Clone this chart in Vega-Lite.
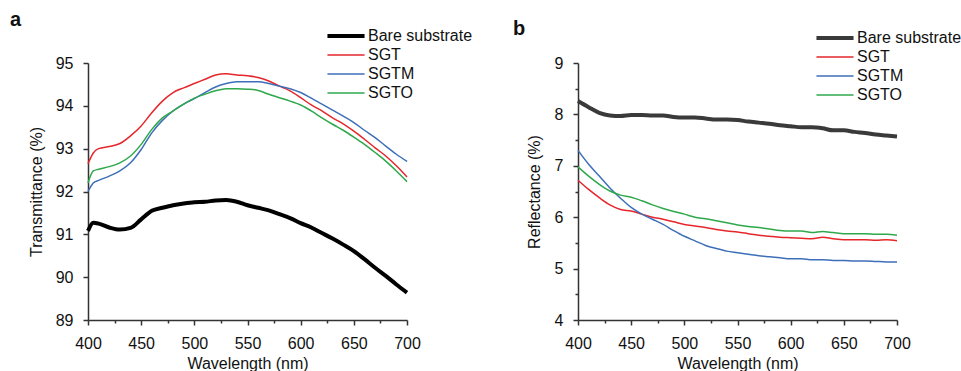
{
  "$schema": "https://vega.github.io/schema/vega-lite/v6.json",
  "padding": {"left": 10, "top": 10, "right": 0, "bottom": 0},
  "background": "white",
  "config": {
    "font": "Liberation Sans",
    "view": {"stroke": null},
    "axis": {
      "grid": false,
      "domainColor": "#333333",
      "domainWidth": 1.5,
      "tickColor": "#333333",
      "tickWidth": 1.5,
      "labelFont": "Liberation Sans",
      "labelFontSize": 16,
      "labelColor": "#111111",
      "titleFont": "Liberation Sans",
      "titleFontSize": 16,
      "titleFontWeight": "normal",
      "titleColor": "#111111",
      "labelPadding": 10
    },
    "legend": {
      "orient": "none",
      "title": null,
      "symbolType": "M-4,0H4",
      "symbolSize": 86,
      "labelFont": "Liberation Sans",
      "labelFontSize": 16,
      "labelColor": "#111111",
      "labelOffset": 14,
      "rowPadding": 3,
      "padding": 0
    },
    "title": {"font": "Liberation Sans", "fontSize": 20, "fontWeight": "bold", "anchor": "start", "color": "#111111", "frame": "group"}
  },
  "datasets": {
    "a": [
      {"series": "Bare substrate", "wavelength": 400, "value": 91.08},
      {"series": "Bare substrate", "wavelength": 405, "value": 91.27},
      {"series": "Bare substrate", "wavelength": 410, "value": 91.25},
      {"series": "Bare substrate", "wavelength": 420, "value": 91.16},
      {"series": "Bare substrate", "wavelength": 430, "value": 91.11},
      {"series": "Bare substrate", "wavelength": 440, "value": 91.15},
      {"series": "Bare substrate", "wavelength": 450, "value": 91.35},
      {"series": "Bare substrate", "wavelength": 460, "value": 91.55},
      {"series": "Bare substrate", "wavelength": 470, "value": 91.62},
      {"series": "Bare substrate", "wavelength": 480, "value": 91.68},
      {"series": "Bare substrate", "wavelength": 490, "value": 91.72},
      {"series": "Bare substrate", "wavelength": 500, "value": 91.75},
      {"series": "Bare substrate", "wavelength": 510, "value": 91.76},
      {"series": "Bare substrate", "wavelength": 520, "value": 91.79},
      {"series": "Bare substrate", "wavelength": 530, "value": 91.8},
      {"series": "Bare substrate", "wavelength": 540, "value": 91.76},
      {"series": "Bare substrate", "wavelength": 550, "value": 91.68},
      {"series": "Bare substrate", "wavelength": 560, "value": 91.62},
      {"series": "Bare substrate", "wavelength": 570, "value": 91.56},
      {"series": "Bare substrate", "wavelength": 580, "value": 91.47},
      {"series": "Bare substrate", "wavelength": 590, "value": 91.38},
      {"series": "Bare substrate", "wavelength": 600, "value": 91.26},
      {"series": "Bare substrate", "wavelength": 610, "value": 91.16},
      {"series": "Bare substrate", "wavelength": 620, "value": 91.03},
      {"series": "Bare substrate", "wavelength": 630, "value": 90.9},
      {"series": "Bare substrate", "wavelength": 640, "value": 90.76},
      {"series": "Bare substrate", "wavelength": 650, "value": 90.61},
      {"series": "Bare substrate", "wavelength": 660, "value": 90.42},
      {"series": "Bare substrate", "wavelength": 670, "value": 90.22},
      {"series": "Bare substrate", "wavelength": 680, "value": 90.03},
      {"series": "Bare substrate", "wavelength": 690, "value": 89.83},
      {"series": "Bare substrate", "wavelength": 700, "value": 89.64},
      {"series": "SGT", "wavelength": 400, "value": 92.65},
      {"series": "SGT", "wavelength": 405, "value": 92.9},
      {"series": "SGT", "wavelength": 410, "value": 93.0},
      {"series": "SGT", "wavelength": 420, "value": 93.05},
      {"series": "SGT", "wavelength": 430, "value": 93.12},
      {"series": "SGT", "wavelength": 440, "value": 93.3},
      {"series": "SGT", "wavelength": 450, "value": 93.53},
      {"series": "SGT", "wavelength": 460, "value": 93.84},
      {"series": "SGT", "wavelength": 470, "value": 94.11},
      {"series": "SGT", "wavelength": 480, "value": 94.31},
      {"series": "SGT", "wavelength": 490, "value": 94.42},
      {"series": "SGT", "wavelength": 500, "value": 94.52},
      {"series": "SGT", "wavelength": 510, "value": 94.62},
      {"series": "SGT", "wavelength": 520, "value": 94.72},
      {"series": "SGT", "wavelength": 530, "value": 94.75},
      {"series": "SGT", "wavelength": 540, "value": 94.72},
      {"series": "SGT", "wavelength": 550, "value": 94.7},
      {"series": "SGT", "wavelength": 560, "value": 94.66},
      {"series": "SGT", "wavelength": 570, "value": 94.58},
      {"series": "SGT", "wavelength": 580, "value": 94.46},
      {"series": "SGT", "wavelength": 590, "value": 94.35},
      {"series": "SGT", "wavelength": 600, "value": 94.19},
      {"series": "SGT", "wavelength": 610, "value": 94.02},
      {"series": "SGT", "wavelength": 620, "value": 93.88},
      {"series": "SGT", "wavelength": 630, "value": 93.72},
      {"series": "SGT", "wavelength": 640, "value": 93.58},
      {"series": "SGT", "wavelength": 650, "value": 93.41},
      {"series": "SGT", "wavelength": 660, "value": 93.22},
      {"series": "SGT", "wavelength": 670, "value": 93.02},
      {"series": "SGT", "wavelength": 680, "value": 92.83},
      {"series": "SGT", "wavelength": 690, "value": 92.6},
      {"series": "SGT", "wavelength": 700, "value": 92.34},
      {"series": "SGTM", "wavelength": 400, "value": 92.0},
      {"series": "SGTM", "wavelength": 405, "value": 92.2},
      {"series": "SGTM", "wavelength": 410, "value": 92.26},
      {"series": "SGTM", "wavelength": 420, "value": 92.36},
      {"series": "SGTM", "wavelength": 430, "value": 92.48},
      {"series": "SGTM", "wavelength": 440, "value": 92.67},
      {"series": "SGTM", "wavelength": 450, "value": 92.98},
      {"series": "SGTM", "wavelength": 460, "value": 93.37},
      {"series": "SGTM", "wavelength": 470, "value": 93.66},
      {"series": "SGTM", "wavelength": 480, "value": 93.88},
      {"series": "SGTM", "wavelength": 490, "value": 94.04},
      {"series": "SGTM", "wavelength": 500, "value": 94.17},
      {"series": "SGTM", "wavelength": 510, "value": 94.31},
      {"series": "SGTM", "wavelength": 520, "value": 94.44},
      {"series": "SGTM", "wavelength": 530, "value": 94.52},
      {"series": "SGTM", "wavelength": 540, "value": 94.56},
      {"series": "SGTM", "wavelength": 550, "value": 94.56},
      {"series": "SGTM", "wavelength": 560, "value": 94.56},
      {"series": "SGTM", "wavelength": 570, "value": 94.52},
      {"series": "SGTM", "wavelength": 580, "value": 94.46},
      {"series": "SGTM", "wavelength": 590, "value": 94.4},
      {"series": "SGTM", "wavelength": 600, "value": 94.31},
      {"series": "SGTM", "wavelength": 610, "value": 94.18},
      {"series": "SGTM", "wavelength": 620, "value": 94.04},
      {"series": "SGTM", "wavelength": 630, "value": 93.9},
      {"series": "SGTM", "wavelength": 640, "value": 93.76},
      {"series": "SGTM", "wavelength": 650, "value": 93.61},
      {"series": "SGTM", "wavelength": 660, "value": 93.43},
      {"series": "SGTM", "wavelength": 670, "value": 93.26},
      {"series": "SGTM", "wavelength": 680, "value": 93.06},
      {"series": "SGTM", "wavelength": 690, "value": 92.87},
      {"series": "SGTM", "wavelength": 700, "value": 92.7},
      {"series": "SGTO", "wavelength": 400, "value": 92.2},
      {"series": "SGTO", "wavelength": 405, "value": 92.48},
      {"series": "SGTO", "wavelength": 410, "value": 92.52},
      {"series": "SGTO", "wavelength": 420, "value": 92.58},
      {"series": "SGTO", "wavelength": 430, "value": 92.67},
      {"series": "SGTO", "wavelength": 440, "value": 92.83},
      {"series": "SGTO", "wavelength": 450, "value": 93.1},
      {"series": "SGTO", "wavelength": 460, "value": 93.45},
      {"series": "SGTO", "wavelength": 470, "value": 93.72},
      {"series": "SGTO", "wavelength": 480, "value": 93.88},
      {"series": "SGTO", "wavelength": 490, "value": 94.04},
      {"series": "SGTO", "wavelength": 500, "value": 94.18},
      {"series": "SGTO", "wavelength": 510, "value": 94.27},
      {"series": "SGTO", "wavelength": 520, "value": 94.35},
      {"series": "SGTO", "wavelength": 530, "value": 94.4},
      {"series": "SGTO", "wavelength": 540, "value": 94.4},
      {"series": "SGTO", "wavelength": 550, "value": 94.39},
      {"series": "SGTO", "wavelength": 560, "value": 94.36},
      {"series": "SGTO", "wavelength": 570, "value": 94.27},
      {"series": "SGTO", "wavelength": 580, "value": 94.19},
      {"series": "SGTO", "wavelength": 590, "value": 94.11},
      {"series": "SGTO", "wavelength": 600, "value": 94.02},
      {"series": "SGTO", "wavelength": 610, "value": 93.88},
      {"series": "SGTO", "wavelength": 620, "value": 93.72},
      {"series": "SGTO", "wavelength": 630, "value": 93.57},
      {"series": "SGTO", "wavelength": 640, "value": 93.43},
      {"series": "SGTO", "wavelength": 650, "value": 93.27},
      {"series": "SGTO", "wavelength": 660, "value": 93.1},
      {"series": "SGTO", "wavelength": 670, "value": 92.91},
      {"series": "SGTO", "wavelength": 680, "value": 92.71},
      {"series": "SGTO", "wavelength": 690, "value": 92.48},
      {"series": "SGTO", "wavelength": 700, "value": 92.23}
    ],
    "b": [
      {"series": "Bare substrate", "wavelength": 400, "value": 8.26},
      {"series": "Bare substrate", "wavelength": 410, "value": 8.14},
      {"series": "Bare substrate", "wavelength": 420, "value": 8.03},
      {"series": "Bare substrate", "wavelength": 430, "value": 7.98},
      {"series": "Bare substrate", "wavelength": 440, "value": 7.97},
      {"series": "Bare substrate", "wavelength": 450, "value": 7.99},
      {"series": "Bare substrate", "wavelength": 460, "value": 7.99},
      {"series": "Bare substrate", "wavelength": 470, "value": 7.98},
      {"series": "Bare substrate", "wavelength": 480, "value": 7.98},
      {"series": "Bare substrate", "wavelength": 490, "value": 7.95},
      {"series": "Bare substrate", "wavelength": 500, "value": 7.94},
      {"series": "Bare substrate", "wavelength": 510, "value": 7.94},
      {"series": "Bare substrate", "wavelength": 520, "value": 7.92},
      {"series": "Bare substrate", "wavelength": 530, "value": 7.9},
      {"series": "Bare substrate", "wavelength": 540, "value": 7.9},
      {"series": "Bare substrate", "wavelength": 550, "value": 7.89},
      {"series": "Bare substrate", "wavelength": 560, "value": 7.86},
      {"series": "Bare substrate", "wavelength": 570, "value": 7.84},
      {"series": "Bare substrate", "wavelength": 580, "value": 7.82},
      {"series": "Bare substrate", "wavelength": 590, "value": 7.79},
      {"series": "Bare substrate", "wavelength": 600, "value": 7.77},
      {"series": "Bare substrate", "wavelength": 610, "value": 7.75},
      {"series": "Bare substrate", "wavelength": 620, "value": 7.75},
      {"series": "Bare substrate", "wavelength": 630, "value": 7.73},
      {"series": "Bare substrate", "wavelength": 640, "value": 7.69},
      {"series": "Bare substrate", "wavelength": 650, "value": 7.69},
      {"series": "Bare substrate", "wavelength": 660, "value": 7.66},
      {"series": "Bare substrate", "wavelength": 670, "value": 7.64},
      {"series": "Bare substrate", "wavelength": 680, "value": 7.61},
      {"series": "Bare substrate", "wavelength": 690, "value": 7.59},
      {"series": "Bare substrate", "wavelength": 700, "value": 7.57},
      {"series": "SGT", "wavelength": 400, "value": 6.72},
      {"series": "SGT", "wavelength": 410, "value": 6.54},
      {"series": "SGT", "wavelength": 420, "value": 6.38},
      {"series": "SGT", "wavelength": 430, "value": 6.24},
      {"series": "SGT", "wavelength": 440, "value": 6.15},
      {"series": "SGT", "wavelength": 450, "value": 6.12},
      {"series": "SGT", "wavelength": 460, "value": 6.06},
      {"series": "SGT", "wavelength": 470, "value": 6.0},
      {"series": "SGT", "wavelength": 480, "value": 5.96},
      {"series": "SGT", "wavelength": 490, "value": 5.91},
      {"series": "SGT", "wavelength": 500, "value": 5.86},
      {"series": "SGT", "wavelength": 510, "value": 5.83},
      {"series": "SGT", "wavelength": 520, "value": 5.8},
      {"series": "SGT", "wavelength": 530, "value": 5.76},
      {"series": "SGT", "wavelength": 540, "value": 5.73},
      {"series": "SGT", "wavelength": 550, "value": 5.71},
      {"series": "SGT", "wavelength": 560, "value": 5.68},
      {"series": "SGT", "wavelength": 570, "value": 5.65},
      {"series": "SGT", "wavelength": 580, "value": 5.63},
      {"series": "SGT", "wavelength": 590, "value": 5.61},
      {"series": "SGT", "wavelength": 600, "value": 5.6},
      {"series": "SGT", "wavelength": 610, "value": 5.59},
      {"series": "SGT", "wavelength": 620, "value": 5.58},
      {"series": "SGT", "wavelength": 630, "value": 5.61},
      {"series": "SGT", "wavelength": 640, "value": 5.58},
      {"series": "SGT", "wavelength": 650, "value": 5.56},
      {"series": "SGT", "wavelength": 660, "value": 5.56},
      {"series": "SGT", "wavelength": 670, "value": 5.56},
      {"series": "SGT", "wavelength": 680, "value": 5.55},
      {"series": "SGT", "wavelength": 690, "value": 5.56},
      {"series": "SGT", "wavelength": 700, "value": 5.54},
      {"series": "SGTM", "wavelength": 400, "value": 7.3},
      {"series": "SGTM", "wavelength": 410, "value": 7.03},
      {"series": "SGTM", "wavelength": 420, "value": 6.8},
      {"series": "SGTM", "wavelength": 430, "value": 6.57},
      {"series": "SGTM", "wavelength": 440, "value": 6.37},
      {"series": "SGTM", "wavelength": 450, "value": 6.19},
      {"series": "SGTM", "wavelength": 460, "value": 6.06},
      {"series": "SGTM", "wavelength": 470, "value": 5.96},
      {"series": "SGTM", "wavelength": 480, "value": 5.86},
      {"series": "SGTM", "wavelength": 490, "value": 5.74},
      {"series": "SGTM", "wavelength": 500, "value": 5.63},
      {"series": "SGTM", "wavelength": 510, "value": 5.54},
      {"series": "SGTM", "wavelength": 520, "value": 5.45},
      {"series": "SGTM", "wavelength": 530, "value": 5.39},
      {"series": "SGTM", "wavelength": 540, "value": 5.34},
      {"series": "SGTM", "wavelength": 550, "value": 5.31},
      {"series": "SGTM", "wavelength": 560, "value": 5.28},
      {"series": "SGTM", "wavelength": 570, "value": 5.25},
      {"series": "SGTM", "wavelength": 580, "value": 5.23},
      {"series": "SGTM", "wavelength": 590, "value": 5.21},
      {"series": "SGTM", "wavelength": 600, "value": 5.19},
      {"series": "SGTM", "wavelength": 610, "value": 5.19},
      {"series": "SGTM", "wavelength": 620, "value": 5.17},
      {"series": "SGTM", "wavelength": 630, "value": 5.17},
      {"series": "SGTM", "wavelength": 640, "value": 5.16},
      {"series": "SGTM", "wavelength": 650, "value": 5.16},
      {"series": "SGTM", "wavelength": 660, "value": 5.15},
      {"series": "SGTM", "wavelength": 670, "value": 5.15},
      {"series": "SGTM", "wavelength": 680, "value": 5.14},
      {"series": "SGTM", "wavelength": 690, "value": 5.13},
      {"series": "SGTM", "wavelength": 700, "value": 5.13},
      {"series": "SGTO", "wavelength": 400, "value": 6.98},
      {"series": "SGTO", "wavelength": 410, "value": 6.8},
      {"series": "SGTO", "wavelength": 420, "value": 6.64},
      {"series": "SGTO", "wavelength": 430, "value": 6.51},
      {"series": "SGTO", "wavelength": 440, "value": 6.43},
      {"series": "SGTO", "wavelength": 450, "value": 6.39},
      {"series": "SGTO", "wavelength": 460, "value": 6.32},
      {"series": "SGTO", "wavelength": 470, "value": 6.24},
      {"series": "SGTO", "wavelength": 480, "value": 6.17},
      {"series": "SGTO", "wavelength": 490, "value": 6.11},
      {"series": "SGTO", "wavelength": 500, "value": 6.06},
      {"series": "SGTO", "wavelength": 510, "value": 6.0},
      {"series": "SGTO", "wavelength": 520, "value": 5.97},
      {"series": "SGTO", "wavelength": 530, "value": 5.93},
      {"series": "SGTO", "wavelength": 540, "value": 5.89},
      {"series": "SGTO", "wavelength": 550, "value": 5.85},
      {"series": "SGTO", "wavelength": 560, "value": 5.82},
      {"series": "SGTO", "wavelength": 570, "value": 5.8},
      {"series": "SGTO", "wavelength": 580, "value": 5.77},
      {"series": "SGTO", "wavelength": 590, "value": 5.74},
      {"series": "SGTO", "wavelength": 600, "value": 5.73},
      {"series": "SGTO", "wavelength": 610, "value": 5.73},
      {"series": "SGTO", "wavelength": 620, "value": 5.7},
      {"series": "SGTO", "wavelength": 630, "value": 5.72},
      {"series": "SGTO", "wavelength": 640, "value": 5.7},
      {"series": "SGTO", "wavelength": 650, "value": 5.68},
      {"series": "SGTO", "wavelength": 660, "value": 5.68},
      {"series": "SGTO", "wavelength": 670, "value": 5.68},
      {"series": "SGTO", "wavelength": 680, "value": 5.67},
      {"series": "SGTO", "wavelength": 690, "value": 5.67},
      {"series": "SGTO", "wavelength": 700, "value": 5.65}
    ]
  },
  "hconcat": [
    {
      "width": 319,
      "height": 257,
      "title": {"text": "a", "dx": -78, "baseline": "alphabetic", "offset": -18},
      "data": {"name": "a"},
      "mark": {"type": "line", "interpolate": "monotone"},
      "encoding": {
        "x": {
          "field": "wavelength", "type": "quantitative",
          "scale": {"domain": [400, 700], "nice": false},
          "axis": {
            "title": "Wavelength (nm)",
            "values": [400, 425, 450, 475, 500, 525, 550, 575, 600, 625, 650, 675, 700],
            "labelExpr": "datum.value % 50 === 0 ? datum.label : ''",
            "tickSize": {"condition": {"test": "datum.value % 50 === 0", "value": 5}, "value": 3},
            "titlePadding": 4,
            "labelFlush": false,
            "labelOverlap": false
          }
        },
        "y": {
          "field": "value", "type": "quantitative",
          "scale": {"domain": [89, 95], "nice": false, "zero": false},
          "axis": {
            "title": "Transmittance (%)",
            "values": [89, 90, 91, 92, 93, 94, 95],
            "tickSize": 5,
            "titlePadding": 11
          }
        },
        "color": {
          "field": "series", "type": "nominal",
          "scale": {"domain": ["Bare substrate", "SGT", "SGTM", "SGTO"], "range": ["#000000", "#e5262b", "#3d6fb8", "#2ea84b"]},
          "legend": {"legendX": 250, "legendY": -35}
        },
        "strokeWidth": {
          "field": "series", "type": "nominal",
          "scale": {"type": "ordinal", "domain": ["Bare substrate", "SGT", "SGTM", "SGTO"], "range": [4, 1.5, 1.5, 1.5]},
          "legend": {"legendX": 250, "legendY": -35}
        }
      }
    },
    {
      "width": 319,
      "height": 257,
      "title": {"text": "b", "dx": -65, "baseline": "alphabetic", "offset": -25},
      "data": {"name": "b"},
      "mark": {"type": "line", "interpolate": "monotone"},
      "encoding": {
        "x": {
          "field": "wavelength", "type": "quantitative",
          "scale": {"domain": [400, 700], "nice": false},
          "axis": {
            "title": "Wavelength (nm)",
            "values": [400, 425, 450, 475, 500, 525, 550, 575, 600, 625, 650, 675, 700],
            "labelExpr": "datum.value % 50 === 0 ? datum.label : ''",
            "tickSize": {"condition": {"test": "datum.value % 50 === 0", "value": 5}, "value": 3},
            "titlePadding": 4,
            "labelFlush": false,
            "labelOverlap": false
          }
        },
        "y": {
          "field": "value", "type": "quantitative",
          "scale": {"domain": [4, 9], "nice": false, "zero": false},
          "axis": {
            "title": "Reflectance (%)",
            "values": [4, 4.5, 5, 5.5, 6, 6.5, 7, 7.5, 8, 8.5, 9],
            "labelExpr": "datum.value % 1 === 0 ? format(datum.value, 'd') : ''",
            "tickSize": {"condition": {"test": "datum.value % 1 === 0", "value": 5}, "value": 3},
            "titlePadding": 12,
            "labelOverlap": false
          }
        },
        "color": {
          "field": "series", "type": "nominal",
          "scale": {"domain": ["Bare substrate", "SGT", "SGTM", "SGTO"], "range": ["#3a3a3a", "#e5262b", "#3d6fb8", "#2ea84b"]},
          "legend": {"legendX": 249, "legendY": -33}
        },
        "strokeWidth": {
          "field": "series", "type": "nominal",
          "scale": {"type": "ordinal", "domain": ["Bare substrate", "SGT", "SGTM", "SGTO"], "range": [4, 1.5, 1.5, 1.5]},
          "legend": {"legendX": 249, "legendY": -33}
        }
      }
    }
  ],
  "spacing": 171,
  "bounds": "flush",
  "resolve": {"scale": {"color": "independent", "strokeWidth": "independent", "y": "independent", "x": "independent"}, "legend": {"color": "independent", "strokeWidth": "independent"}, "axis": {"y": "independent"}}
}
